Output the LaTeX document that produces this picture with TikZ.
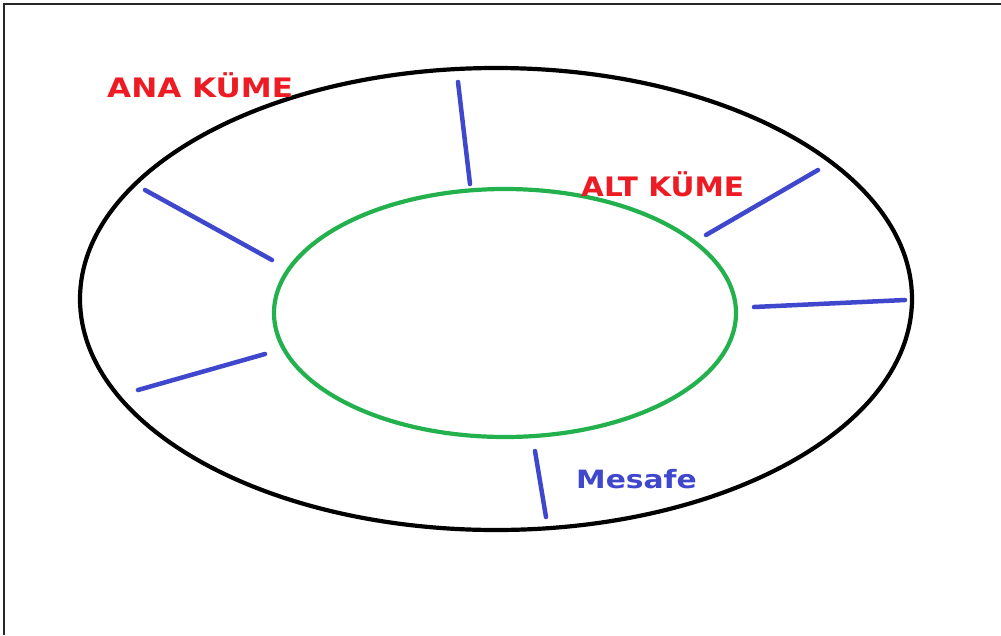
\documentclass[tikz,border=0pt]{standalone}
\usepackage{fontspec}
\setmainfont{DejaVu Sans}
\definecolor{pred}{RGB}{237,28,36}
\definecolor{pblue}{RGB}{63,72,204}
\definecolor{pgreen}{RGB}{34,177,76}
\begin{document}
\begin{tikzpicture}[x=1pt,y=-1pt,
  frame/.style={line width=2pt,black!85},
  setline/.style={line width=4.2pt},
  gap/.style={pblue,line width=4.5pt,line cap=round},
  lbl/.style={inner sep=0pt,anchor=base west,font=\fontsize{26.8}{30}\selectfont\bfseries}]
\useasboundingbox (0,0) rectangle (1001,635);
\fill[white] (0,0) rectangle (1001,635);
% frame (top and left edges only)
\draw[frame] (4,635) -- (4,4) -- (1001,4);
% outer set
\draw[setline,black] (496,299) ellipse [x radius=416, y radius=231];
% inner set
\draw[setline,pgreen] (505,313) ellipse [x radius=231, y radius=124];
% distance lines
\draw[gap] (458,82) -- (470,184);
\draw[gap] (145,190) -- (272,260);
\draw[gap] (706,235) -- (818,170);
\draw[gap] (754,307) -- (905,300);
\draw[gap] (138,390) -- (265,354);
\draw[gap] (535,451) -- (546,517);
% labels
\node[lbl,text=pred] (ana) at (107,97) {\scalebox{1.16}[1]{ANA KÜME}};
\node[lbl,text=pred] (alt) at (581,196) {\scalebox{1.1}[1]{ALT KÜME}};
\node[lbl,text=pblue,font=\fontsize{25.2}{28}\selectfont\bfseries] (mesafe) at (576,488) {\scalebox{1.18}[1]{Mesafe}};
\end{tikzpicture}
\end{document}
